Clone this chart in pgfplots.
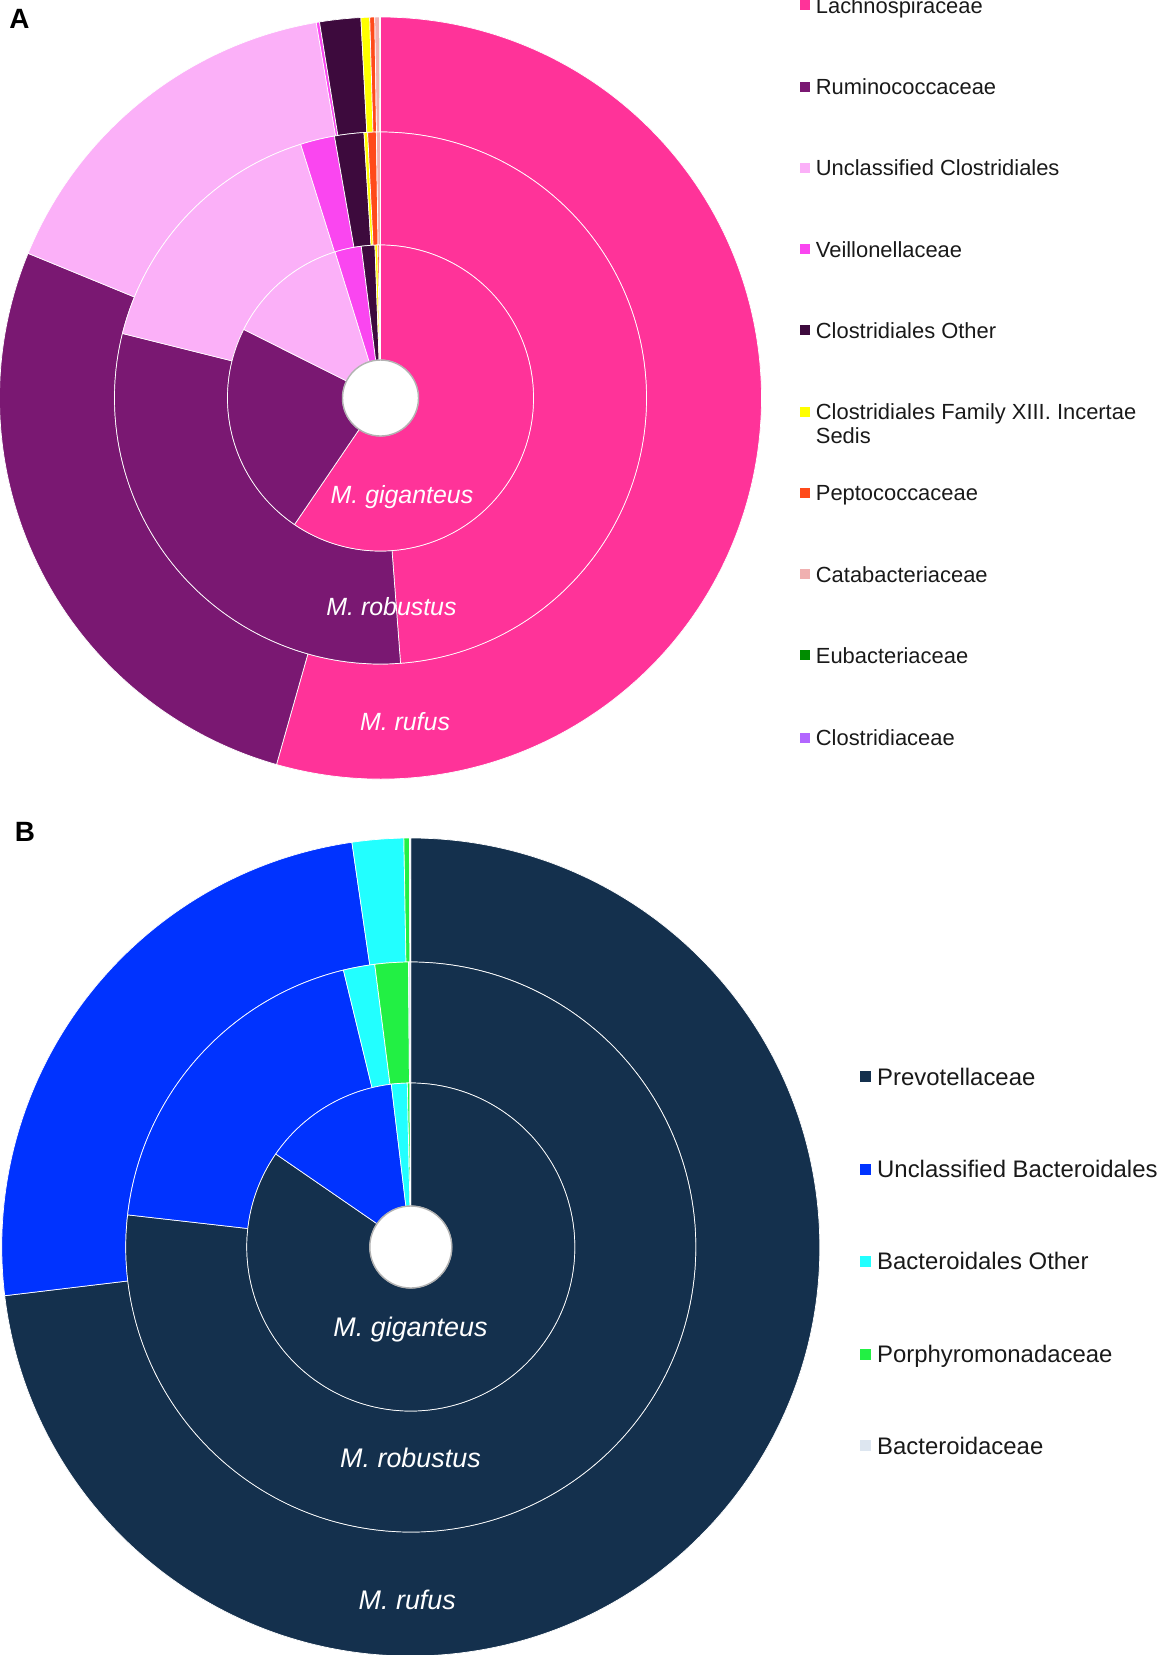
\documentclass[border=0pt]{standalone}
\usepackage{pgfplots}
\pgfplotsset{compat=1.18}
\usepackage{fontspec}
\setmainfont{Liberation Sans}

\definecolor{lachno}{RGB}{255,51,153}
\definecolor{rumino}{RGB}{122,24,114}
\definecolor{uncclo}{RGB}{251,176,248}
\definecolor{veillon}{RGB}{250,70,240}
\definecolor{cloother}{RGB}{61,10,61}
\definecolor{famxiii}{RGB}{255,255,0}
\definecolor{pepto}{RGB}{255,74,26}
\definecolor{catab}{RGB}{240,176,176}
\definecolor{eubac}{RGB}{0,140,0}
\definecolor{clostr}{RGB}{178,102,255}
\definecolor{prevo}{RGB}{20,48,77}
\definecolor{uncbac}{RGB}{0,51,255}
\definecolor{bacother}{RGB}{34,255,255}
\definecolor{porphy}{RGB}{34,240,68}
\definecolor{bacteroid}{RGB}{221,230,240}

\def\splitentry#1/#2\relax{\def\segcol{#1}\def\segval{#2}}
% \ring{cx}{cy}{r inner}{r outer}{colour/percent, ...}  (clockwise from the top)
\newcommand\ring[5]{%
  \def\cum{0}%
  \pgfplotsforeachungrouped \entry in {#5}{%
    \expandafter\splitentry\entry\relax
    \pgfmathsetmacro\newcum{\cum+\segval}%
    \pgfmathsetmacro\angA{90-3.6*\cum}%
    \pgfmathsetmacro\angB{90-3.6*\newcum}%
    \edef\doit{\noexpand\fill[\segcol,draw=white,line width=0.7bp,line join=round]
      ([shift={(\angA:#3bp)}]axis cs:#1,#2) arc[start angle=\angA,end angle=\angB,radius=#3bp]
      -- ([shift={(\angB:#4bp)}]axis cs:#1,#2) arc[start angle=\angB,end angle=\angA,radius=#4bp] -- cycle;}%
    \doit
    \let\cum\newcum
  }%
}

\begin{document}
\begin{tikzpicture}
\begin{axis}[x=1bp, y=1bp, xmin=0, xmax=1165, ymin=0, ymax=1655, y dir=reverse,
  hide axis, clip=false, anchor=south west, at={(0,0)}]

% ---------------- Panel A ----------------
% M. rufus (outer)
\ring{380.5}{398}{266}{381}{lachno/54.40, rumino/26.8, uncclo/16.1, veillon/0.14, cloother/1.74, famxiii/0.37, pepto/0.21, catab/0.2, eubac/0.02, clostr/0.02}
% M. robustus (middle)
\ring{380.5}{398}{153}{266}{lachno/48.8, rumino/30.1, uncclo/16.25, veillon/2.08, cloother/1.78, famxiii/0.22, pepto/0.52, catab/0.25}
% M. giganteus (inner)
\ring{380.5}{398}{38}{153}{lachno/59.5, rumino/22.9, uncclo/12.8, veillon/2.79, cloother/1.43, famxiii/0.28, pepto/0.17, catab/0.13}
\fill[white] (axis cs:380.5,398) circle[radius=38bp];
\draw[black!30, line width=1.4bp] (axis cs:380.5,398) circle[radius=38bp];

\node[text=white, font=\fontsize{25}{30}\selectfont\itshape] at (axis cs:402,497) {M. giganteus};
\node[text=white, font=\fontsize{25}{30}\selectfont\itshape] at (axis cs:391.5,607) {M. robustus};
\node[text=white, font=\fontsize{25}{30}\selectfont\itshape] at (axis cs:405,722) {M. rufus};

\node[font=\fontsize{28}{32}\selectfont\bfseries] at (axis cs:19.5,19) {A};

% legend A
\foreach \c/\t/\yy in {lachno/Lachnospiraceae/5.3, rumino/Ruminococcaceae/86.5,
  uncclo/Unclassified Clostridiales/167.8, veillon/Veillonellaceae/249,
  cloother/Clostridiales Other/330.3, famxiii/Clostridiales Family XIII. Incertae/411.6,
  pepto/Peptococcaceae/492.8, catab/Catabacteriaceae/574, eubac/Eubacteriaceae/655.3,
  clostr/Clostridiaceae/737.6}{%
  \edef\doit{\noexpand\fill[\c] (axis cs:800,\yy-5) rectangle (axis cs:810,\yy+5);
    \noexpand\node[anchor=base west, inner sep=0pt, text=black!90, font=\noexpand\fontsize{22}{26}\noexpand\selectfont] at (axis cs:815.7,\yy+8) {\t};}%
  \doit
}
\node[anchor=base west, inner sep=0pt, text=black!90, font=\fontsize{22}{26}\selectfont] at (axis cs:815.7,443.8) {Sedis};

% ---------------- Panel B ----------------
% M. rufus (outer)
\ring{410.8}{1247}{285}{409}{prevo/73.1, uncbac/24.6, bacother/2.03, porphy/0.22, bacteroid/0.05}
% M. robustus (middle)
\ring{410.8}{1247}{164}{285}{prevo/76.8, uncbac/19.4, bacother/1.78, porphy/1.89, bacteroid/0.13}
% M. giganteus (inner)
\ring{410.8}{1247}{41}{164}{prevo/84.6, uncbac/13.5, bacother/1.56, porphy/0.25, bacteroid/0.09}
\fill[white] (axis cs:410.8,1247) circle[radius=41bp];
\draw[black!30, line width=1.4bp] (axis cs:410.8,1247) circle[radius=41bp];

\node[text=white, font=\fontsize{27}{32}\selectfont\itshape] at (axis cs:410.5,1330) {M. giganteus};
\node[text=white, font=\fontsize{27}{32}\selectfont\itshape] at (axis cs:410.5,1457.5) {M. robustus};
\node[text=white, font=\fontsize{27}{32}\selectfont\itshape] at (axis cs:407.3,1600) {M. rufus};

\node[font=\fontsize{28}{32}\selectfont\bfseries] at (axis cs:25,831.5) {B};

% legend B
\foreach \c/\t/\yy in {prevo/Prevotellaceae/1076.4, uncbac/Unclassified Bacteroidales/1169.3,
  bacother/Bacteroidales Other/1261, porphy/Porphyromonadaceae/1354, bacteroid/Bacteroidaceae/1445.8}{%
  \edef\doit{\noexpand\fill[\c] (axis cs:860,\yy-5.5) rectangle (axis cs:871,\yy+5.5);
    \noexpand\node[anchor=base west, inner sep=0pt, text=black!90, font=\noexpand\fontsize{24}{28}\noexpand\selectfont] at (axis cs:877,\yy+8.6) {\t};}%
  \doit
}
\end{axis}
\pgfresetboundingbox
\path[use as bounding box] (0,0) rectangle (1165bp,1655bp);
\end{tikzpicture}
\end{document}
